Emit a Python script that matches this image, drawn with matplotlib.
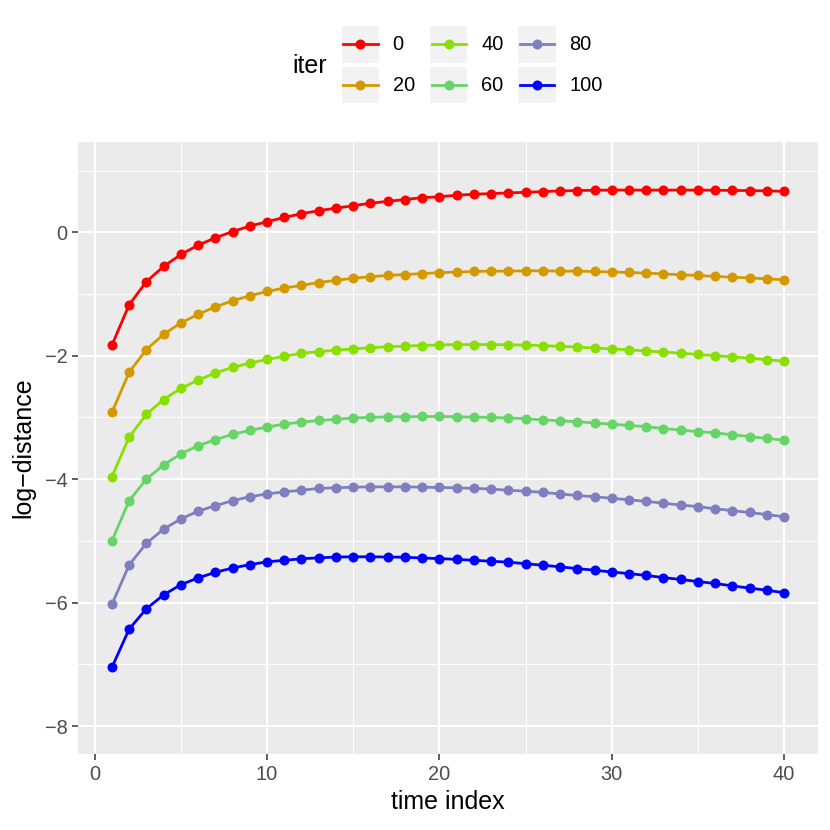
import matplotlib
matplotlib.use("Agg")
import matplotlib.pyplot as plt
from matplotlib.patches import Rectangle
from matplotlib.lines import Line2D
import numpy as np

plt.rcParams['font.family'] = ['Liberation Sans', 'DejaVu Sans']

time_index = list(range(1, 41))
iters = ["0", "20", "40", "60", "80", "100"]
colors = ["#FF0000", "#D59900", "#89E000", "#66D466", "#7F7FBF", "#0000FF"]

d_iter0 = [-1.83, -1.175, -0.80, -0.555, -0.36, -0.21, -0.09, 0.01, 0.10, 0.17,
           0.24, 0.30, 0.35, 0.39, 0.43, 0.47, 0.50, 0.53, 0.56, 0.575,
           0.60, 0.615, 0.626, 0.637, 0.647, 0.658, 0.67, 0.675, 0.68, 0.683,
           0.683, 0.683, 0.683, 0.683, 0.683, 0.68, 0.677, 0.675, 0.67, 0.663]
d_iter20 = [-2.92, -2.27, -1.90, -1.655, -1.47, -1.33, -1.21, -1.11, -1.03, -0.96,
            -0.905, -0.86, -0.815, -0.78, -0.745, -0.72, -0.70, -0.685, -0.67, -0.655,
            -0.645, -0.636, -0.63, -0.63, -0.625, -0.625, -0.63, -0.63, -0.636, -0.645,
            -0.652, -0.663, -0.674, -0.69, -0.70, -0.717, -0.728, -0.74, -0.755, -0.77]
d_iter40 = [-3.96, -3.32, -2.95, -2.71, -2.53, -2.395, -2.28, -2.19, -2.12, -2.06,
            -2.01, -1.96, -1.935, -1.91, -1.89, -1.87, -1.855, -1.845, -1.835, -1.825,
            -1.82, -1.82, -1.82, -1.822, -1.83, -1.835, -1.85, -1.86, -1.875, -1.89,
            -1.905, -1.925, -1.94, -1.96, -1.98, -2.00, -2.02, -2.04, -2.065, -2.09]
d_iter60 = [-5.0, -4.35, -4.0, -3.77, -3.59, -3.46, -3.36, -3.275, -3.21, -3.155,
            -3.11, -3.075, -3.05, -3.03, -3.01, -3.0, -2.99, -2.99, -2.985, -2.985,
            -2.99, -2.995, -3.0, -3.01, -3.02, -3.04, -3.055, -3.07, -3.09, -3.11,
            -3.13, -3.15, -3.18, -3.205, -3.23, -3.25, -3.28, -3.31, -3.34, -3.37]
d_iter80 = [-6.03, -5.39, -5.04, -4.81, -4.645, -4.52, -4.43, -4.35, -4.285, -4.24,
            -4.205, -4.18, -4.15, -4.14, -4.13, -4.125, -4.125, -4.125, -4.13, -4.135,
            -4.14, -4.15, -4.16, -4.18, -4.195, -4.215, -4.24, -4.265, -4.285, -4.31,
            -4.335, -4.36, -4.39, -4.42, -4.445, -4.48, -4.51, -4.54, -4.575, -4.61]
d_iter100 = [-7.05, -6.43, -6.10, -5.875, -5.71, -5.60, -5.51, -5.44, -5.385, -5.34,
             -5.315, -5.29, -5.275, -5.262, -5.258, -5.258, -5.262, -5.265, -5.278, -5.287,
             -5.30, -5.315, -5.33, -5.345, -5.37, -5.395, -5.42, -5.45, -5.475, -5.505,
             -5.53, -5.56, -5.595, -5.625, -5.66, -5.69, -5.73, -5.765, -5.80, -5.84]
series = [d_iter0, d_iter20, d_iter40, d_iter60, d_iter80, d_iter100]

x_ticks = [0, 10, 20, 30, 40]
y_ticks = [-8, -6, -4, -2, 0]

W = H = 830
fig = plt.figure(figsize=(W / 100, H / 100), dpi=100)
L, R, T, B = 78.3, 817.7, 142.3, 754.0
ax = fig.add_axes([L / W, 1 - B / H, (R - L) / W, (B - T) / H])
ax.set_facecolor("#EBEBEB")
for s in ax.spines.values():
    s.set_visible(False)

ax.set_xlim(-0.95, 41.95)
ax.set_ylim(-8.453, 1.457)
ax.set_xticks(x_ticks)
ax.set_yticks(y_ticks)
ax.set_xticklabels([str(v) for v in x_ticks])
ax.set_yticklabels([str(v).replace("-", "\u2212") for v in y_ticks])
ax.set_xticks([5, 15, 25, 35], minor=True)
ax.set_yticks([-7, -5, -3, -1, 1], minor=True)
ax.grid(True, which="major", color="white", linewidth=1.5)
ax.grid(True, which="minor", color="white", linewidth=0.75)
ax.set_axisbelow(True)
ax.tick_params(which="major", length=4.3, width=1.1, color="#333333",
               labelsize=14.4, labelcolor="#4D4D4D", pad=3.5)
ax.tick_params(which="minor", length=0)

for ys, c in zip(series, colors):
    ax.plot(time_index, ys, color=c, linewidth=2.0, marker="o", markersize=7.2,
            markeredgewidth=0, zorder=3)

fig.text((L + R) / 2 / W, 1 - 802 / H, "time index", ha="center", va="center",
         fontsize=18, color="black")
fig.text(23 / W, 1 - (T + B) / 2 / H, "log\u2212distance", ha="center", va="center",
         rotation=90, fontsize=18, color="black")

# legend (drawn in a pixel-coordinate overlay axes)
lax = fig.add_axes([0, 0, 1, 1], facecolor="none")
lax.set_xlim(0, W)
lax.set_ylim(H, 0)
lax.axis("off")
key_x = [341.7, 430.0, 518.3]
key_y = [26.0, 66.7]
kw, kh = 37.3, 36.7
for i, (lab, c) in enumerate(zip(iters, colors)):
    col, row = i // 2, i % 2
    x0, y0 = key_x[col], key_y[row]
    lax.add_patch(Rectangle((x0, y0), kw, kh, facecolor="#F2F2F2", edgecolor="none"))
    cy = y0 + kh / 2
    lax.add_line(Line2D([x0 + 1.5, x0 + kw - 1.5], [cy, cy], color=c, linewidth=2.0))
    lax.plot([x0 + kw / 2], [cy], marker="o", markersize=7.2, color=c, markeredgewidth=0)
    lax.text(x0 + 51, cy, lab, ha="left", va="center", fontsize=14.4, color="black")
lax.text(292.7, 66.0, "iter", ha="left", va="center", fontsize=18, color="black")

fig.savefig("out.png", dpi=100)
